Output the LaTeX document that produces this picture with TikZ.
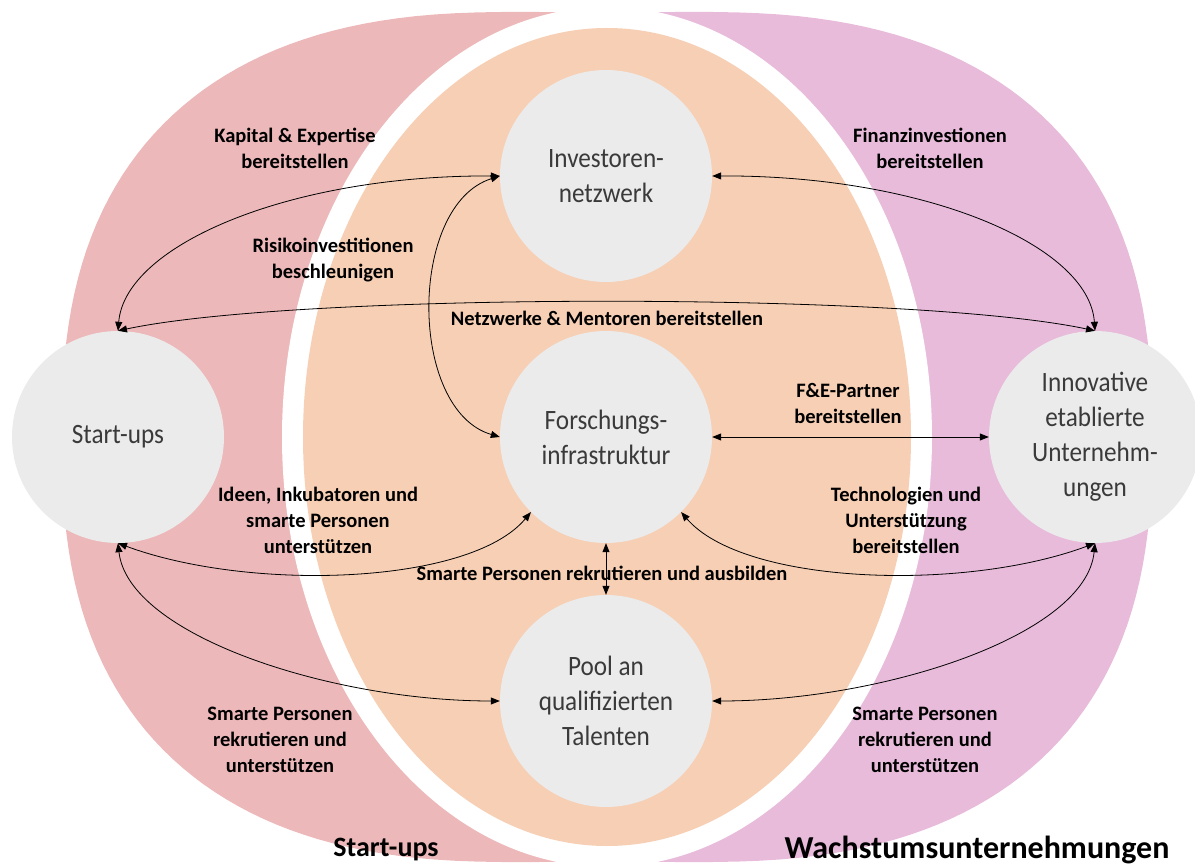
\documentclass[tikz,border=0pt]{standalone}
\usepackage{fontspec}
\setmainfont{Carlito}
\newfontfamily\nodefont[FakeStretch=0.9]{Carlito}
\usetikzlibrary{arrows.meta}
\definecolor{pinkbg}{HTML}{EDB8B9}
\definecolor{purplebg}{HTML}{E8BBDA}
\definecolor{orangebg}{HTML}{F7CFB4}
\definecolor{graycirc}{HTML}{EBEBEB}
\definecolor{nodetext}{HTML}{3A3A3A}
\begin{document}
\begin{tikzpicture}[x=1pt,y=-1pt,
  circ/.style={circle, fill=graycirc, minimum size=212pt, inner sep=0pt,
    font=\nodefont\fontsize{28}{35}\selectfont, text=nodetext, align=center},
  lbl/.style={font=\fontsize{20.5}{26}\selectfont\bfseries, align=center, inner sep=0pt},
  biglbl/.style={font=\bfseries, inner sep=0pt},
  conn/.style={line width=0.8pt, {Triangle[length=9pt,width=7pt]}-{Triangle[length=9pt,width=7pt]}}]
\useasboundingbox (0,0) rectangle (1195,866);
% background regions
\begin{scope}
\clip (0,0) rectangle (607,866);
\fill[pinkbg] plot[domain=1:359, samples=180]
  ({520+458*sign(cos(\x))*abs(cos(\x))^0.8}, {437+425*sign(sin(\x))*abs(sin(\x))^0.8}) -- cycle;
\end{scope}
\begin{scope}
\clip (607,0) rectangle (1195,866);
\fill[purplebg] plot[domain=1:359, samples=180]
  ({694-458*sign(cos(\x))*abs(cos(\x))^0.8}, {437+425*sign(sin(\x))*abs(sin(\x))^0.8}) -- cycle;
\end{scope}
\fill[white] (607,437) ellipse [x radius=325, y radius=430];
\fill[orangebg] (607,437) ellipse [x radius=304, y radius=409];
% circles
\node[circ] (inv) at (606,176) {Investoren-\\netzwerk};
\node[circ] (fi) at (606,437) {Forschungs-\\infrastruktur};
\node[circ] (pool) at (606,701) {Pool an\\qualifizierten\\Talenten};
\node[circ] (st) at (118,437) {Start-ups};
\node[circ] (inn) at (1095,437) {Innovative\\etablierte\\Unternehm-\\ungen};
% connectors
\draw[conn] (st.north) .. controls (125,245) and (290,175) .. (inv.west);
\draw[conn] (st.north) .. controls (300,292) and (914,292) .. (inn.north);
\draw[conn] (inn.north) .. controls (1089,245) and (924,175) .. (inv.east);
\draw[conn] (inv.west) .. controls (408,205) and (408,410) .. (fi.west);
\draw[conn] (fi.east) -- (inn.west);
\draw[conn] (st.south) .. controls (250,592) and (470,585) .. (fi.225);
\draw[conn] (inn.south) .. controls (964,592) and (744,585) .. (fi.-45);
\draw[conn] (fi.south) -- (pool.north);
\draw[conn] (st.south) .. controls (128,635) and (330,701) .. (pool.west);
\draw[conn] (inn.south) .. controls (1086,635) and (884,701) .. (pool.east);
% labels
\node[lbl] (l1) at (295,148) {Kapital \& Expertise\\bereitstellen};
\node[lbl] (l2) at (333,260) {Risikoinvestitionen\\beschleunigen};
\node[lbl] (l3) at (607,318) {Netzwerke \& Mentoren bereitstellen};
\node[lbl] (l4) at (930,148) {Finanzinvestionen\\bereitstellen};
\node[lbl] (l5) at (848,403) {F\&E-Partner\\bereitstellen};
\node[lbl] (l6) at (318,520) {Ideen, Inkubatoren und\\smarte Personen\\unterstützen};
\node[lbl] (l7) at (906,520) {Technologien und\\Unterstützung\\bereitstellen};
\node[lbl] (l8) at (602,573) {Smarte Personen rekrutieren und ausbilden};
\node[lbl] (l9) at (280,740) {Smarte Personen\\rekrutieren und\\unterstützen};
\node[lbl] (l10) at (925,740) {Smarte Personen\\rekrutieren und\\unterstützen};
\node[biglbl, font=\fontsize{28}{32}\selectfont\bfseries] (b1) at (386,850) {Start-ups};
\node[biglbl, font=\fontsize{32}{36}\selectfont\bfseries] (b2) at (977,850) {Wachstumsunternehmungen};
\end{tikzpicture}
\end{document}
